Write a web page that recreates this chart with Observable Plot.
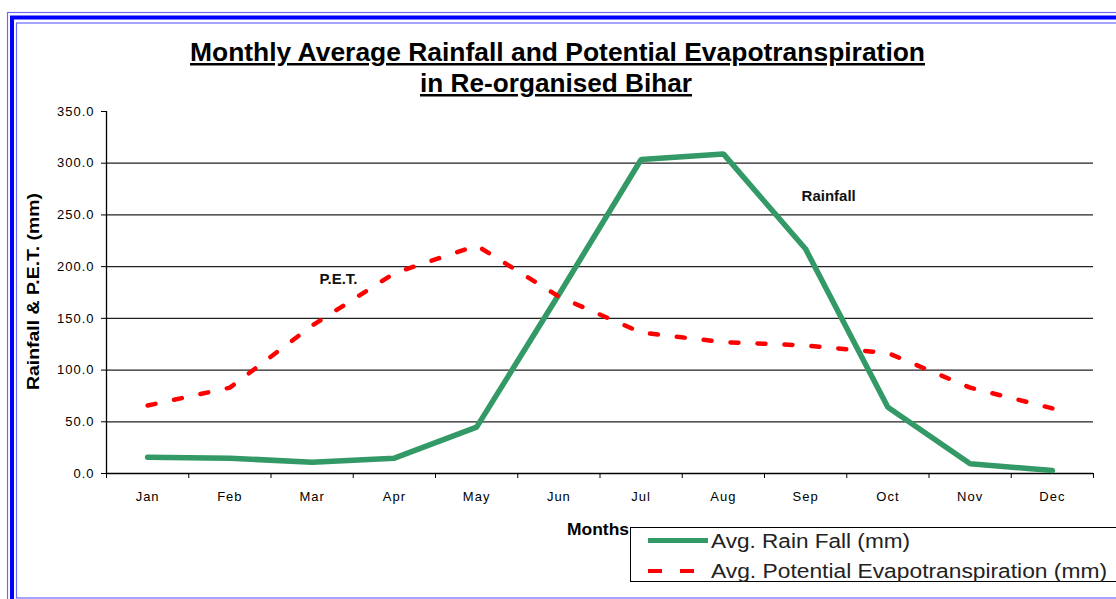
<!DOCTYPE html>
<html>
<head>
<meta charset="utf-8">
<script src="https://cdn.jsdelivr.net/npm/d3@7"></script>
<script src="https://cdn.jsdelivr.net/npm/@observablehq/plot@0.6"></script>
<style>
  html, body { margin: 0; padding: 0; background: #fff; }
  #wrap { position: relative; width: 1116px; height: 599px; overflow: hidden; background: #fff; font-family: "Liberation Sans", Arial, sans-serif; }
  #wrap > svg { position: absolute; left: 0; top: 0; }
  #overlay { pointer-events: none; }
  g[aria-label="y-axis tick label"] text, g[aria-label="x-axis tick label"] text { letter-spacing: 1px; }
</style>
</head>
<body>
<div id="wrap"></div>
<script>
// ---- data ----
const months = ["Jan", "Feb", "Mar", "Apr", "May", "Jun", "Jul", "Aug", "Sep", "Oct", "Nov", "Dec"];
const rainfall = [15.8, 14.8, 10.9, 14.8, 44.8, 173.0, 303.6, 309.0, 217.0, 64.1, 9.4, 2.9];
const pet = [65.7, 83.0, 143.0, 193.7, 220.4, 171.0, 136.3, 127.0, 123.8, 116.5, 83.0, 63.0];
const yTicks = [0, 50, 100, 150, 200, 250, 300, 350];
const gridTicks = [50, 100, 150, 200, 250, 300];
const titleLines = ["Monthly Average Rainfall and Potential Evapotranspiration", "in Re-organised Bihar"];
const yTitle = "Rainfall & P.E.T. (mm)";
const xTitle = "Months";
const legendLabels = ["Avg. Rain Fall (mm)", "Avg. Potential Evapotranspiration (mm)"];

const monthIndex = months.map((_, i) => i + 1);
const bandEdges = [0.5, ...monthIndex.map(i => i + 0.5)];
const rainData = months.map((m, i) => ({month: i + 1, value: rainfall[i]}));
const petData = months.map((m, i) => ({month: i + 1, value: pet[i]}));

const font = "'Liberation Sans', Arial, sans-serif";

const chart = Plot.plot({
  width: 1116,
  height: 599,
  marginLeft: 106,
  marginRight: 23,
  marginTop: 111,
  marginBottom: 126,
  style: {fontFamily: font, fontSize: "13px", color: "#000", background: "transparent", overflow: "visible"},
  x: {type: "linear", domain: [0.5, 12.5]},
  y: {domain: [0, 350]},
  marks: [
    Plot.gridY(gridTicks, {stroke: "#222", strokeOpacity: 1, strokeWidth: 1.3}),
    Plot.ruleX([0.5], {stroke: "#000", strokeWidth: 1.3}),
    Plot.ruleY([0], {stroke: "#000", strokeWidth: 1.3}),
    Plot.axisY({ticks: yTicks, tickSize: 5, tickPadding: 7, tickFormat: d3.format(".1f"), label: null, fill: "#000", fontSize: 13}),
    Plot.axisX({ticks: bandEdges, tickSize: 5, tickFormat: () => "", label: null}),
    Plot.axisX({ticks: monthIndex, tickSize: 0, tickPadding: 18, tickFormat: i => months[i - 1], label: null, fill: "#000", fontSize: 13}),
    Plot.line(rainData, {x: "month", y: "value", stroke: "#339966", strokeWidth: 5.5, strokeLinejoin: "miter"}),
    Plot.line(petData, {x: "month", y: "value", stroke: "#ff0000", strokeWidth: 4.5, strokeDasharray: "8,19"}),
    Plot.text(["P.E.T."], {x: 3.32, y: 187.6, fontWeight: "bold", fontSize: 15, fill: "#111"}),
    Plot.text(["Rainfall"], {x: 9.28, y: 268.5, fontWeight: "bold", fontSize: 15, fill: "#111"})
  ]
});
const wrap = document.getElementById("wrap");
wrap.appendChild(chart);

// ---- overlay: frame, titles, legend ----
const ov = d3.select(wrap).append("svg").attr("id", "overlay")
  .attr("width", 1116).attr("height", 599).style("font-family", font);

// triple blue frame
ov.append("rect").attr("x", 7.5).attr("y", 12.5).attr("width", 1200).attr("height", 595)
  .attr("fill", "none").attr("stroke", "#6a6aff").attr("stroke-width", 1.2);
ov.append("rect").attr("x", 12).attr("y", 17.5).attr("width", 1200).attr("height", 585)
  .attr("fill", "none").attr("stroke", "#0000ff").attr("stroke-width", 4);
ov.append("rect").attr("x", 16.5).attr("y", 23).attr("width", 1200).attr("height", 575)
  .attr("fill", "none").attr("stroke", "#6a6aff").attr("stroke-width", 1.2);

// title
const tl = [{x: 557.5, y: 61, w: 735}, {x: 556, y: 92, w: 272}];
titleLines.forEach((t, i) => {
  ov.append("text").attr("x", tl[i].x).attr("y", tl[i].y)
    .attr("text-anchor", "middle").attr("font-weight", "bold").attr("font-size", 25)
    .attr("textLength", tl[i].w).attr("lengthAdjust", "spacingAndGlyphs")
    .style("text-decoration", "underline").attr("fill", "#000").text(t);
});

// y title
ov.append("text").attr("transform", "translate(39,291.5) rotate(-90)")
  .attr("text-anchor", "middle").attr("font-weight", "bold").attr("font-size", 16)
  .attr("textLength", 197).attr("lengthAdjust", "spacingAndGlyphs").attr("fill", "#000").text(yTitle);

// legend
ov.append("rect").attr("x", 630.5).attr("y", 527.5).attr("width", 600).attr("height", 54)
  .attr("fill", "#fff").attr("stroke", "#000").attr("stroke-width", 1);
ov.append("line").attr("x1", 648).attr("x2", 708).attr("y1", 540.5).attr("y2", 540.5)
  .attr("stroke", "#339966").attr("stroke-width", 5);
ov.append("line").attr("x1", 648).attr("x2", 694).attr("y1", 571).attr("y2", 571)
  .attr("stroke", "#ff0000").attr("stroke-width", 4).attr("stroke-dasharray", "14,18");
const lw = [199, 396];
legendLabels.forEach((t, i) => {
  ov.append("text").attr("x", 711).attr("y", 548 + i * 30).attr("font-size", 20)
    .attr("fill", "#222").attr("textLength", lw[i]).attr("lengthAdjust", "spacingAndGlyphs").text(t);
});

// x title (drawn over legend border)
ov.append("text").attr("x", 567).attr("y", 535).attr("font-weight", "bold").attr("font-size", 16)
  .attr("textLength", 62).attr("lengthAdjust", "spacingAndGlyphs").attr("fill", "#000").text(xTitle);
</script>
</body>
</html>
